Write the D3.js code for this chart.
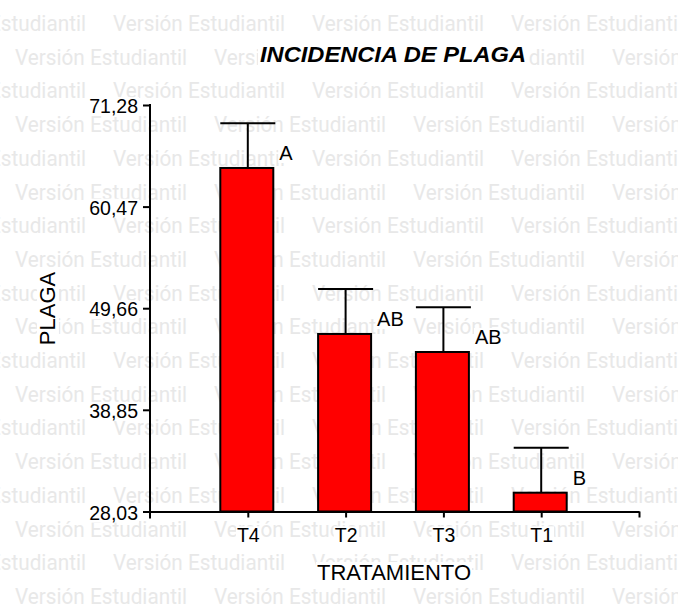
<!DOCTYPE html>
<html>
<head>
<meta charset="utf-8">
<script src="https://cdn.jsdelivr.net/npm/d3@7"></script>
<style>
  body { margin: 0; background: #fff; }
  svg { display: block; }
</style>
</head>
<body>
<div id="chart"></div>
<script>
// data
var categories = ['T4', 'T2', 'T3', 'T1'];
var means = [64.58, 46.92, 45.00, 30.03];
var errors = [4.77, 4.77, 4.77, 4.77];
var letters = ['A', 'AB', 'AB', 'B'];
var yTicks = [28.03, 38.85, 49.66, 60.47, 71.28];

var W = 678, H = 607;
var font = "'Liberation Sans', Arial, sans-serif";

var svg = d3.select('#chart').append('svg')
  .attr('width', W)
  .attr('height', H)
  .style('font-family', font);

// watermark rows
var wm = svg.append('g')
  .attr('fill', '#e8e8e8')
  .style('font-family', "Roboto, 'Liberation Sans', sans-serif")
  .style('font-size', '22px');
for (var k = 0; k < 18; k++) {
  var wy = 31 + 33.7 * k;
  var x0 = (k % 2 == 0) ? -86 : 15;
  for (var wx = x0; wx < W; wx += 199) {
    wm.append('text')
      .attr('x', wx)
      .attr('y', wy)
      .attr('textLength', 172)
      .attr('lengthAdjust', 'spacingAndGlyphs')
      .text('Versión Estudiantil');
  }
}

// white box behind a text so the watermark is hidden there
var boxBehind = function(sel, pad) {
  sel.each(function() {
    var b = this.getBBox();
    d3.select(this.parentNode).insert('rect', function() { return this; }.bind(this))
      .attr('x', b.x - pad)
      .attr('y', b.y + 2)
      .attr('width', b.width + 2 * pad)
      .attr('height', b.height - 3)
      .attr('fill', '#fff');
  });
};

var x = d3.scaleLinear()
  .domain([0, categories.length + 1])
  .range([150, 639]);
var y = d3.scaleLinear()
  .domain([yTicks[0], yTicks[yTicks.length - 1]])
  .range([511.5, 105]);

var barW = 53, capW = 55;
var g = svg.append('g');

// error bars
means.forEach(function(m, i) {
  var cx = x(i + 1);
  g.append('line')
    .attr('x1', cx).attr('x2', cx)
    .attr('y1', y(m)).attr('y2', y(m + errors[i]))
    .attr('stroke', '#000').attr('stroke-width', 2);
  g.append('line')
    .attr('x1', cx - capW / 2).attr('x2', cx + capW / 2)
    .attr('y1', y(m + errors[i])).attr('y2', y(m + errors[i]))
    .attr('stroke', '#000').attr('stroke-width', 2);
});

// bars
g.selectAll('rect.bar')
  .data(means)
  .enter().append('rect')
  .attr('class', 'bar')
  .attr('x', function(d, i) { return x(i + 1) - barW / 2 - 1; })
  .attr('y', function(d) { return y(d); })
  .attr('width', barW)
  .attr('height', function(d) { return y(yTicks[0]) - y(d); })
  .attr('fill', '#ff0000')
  .attr('stroke', '#000')
  .attr('stroke-width', 2);

// letters
var lab = g.selectAll('text.lett')
  .data(letters)
  .enter().append('text')
  .attr('class', 'lett')
  .attr('x', function(d, i) { return x(i + 1) + barW / 2 + 5; })
  .attr('y', function(d, i) { return y(means[i]) - 8; })
  .style('font-size', '20px')
  .text(function(d) { return d; });
boxBehind(lab, 1);

// y axis
var yAxis = d3.axisLeft(y)
  .tickValues(yTicks)
  .tickSize(7)
  .tickPadding(5)
  .tickFormat(function(d) { return d3.format('.2f')(d).replace('.', ','); });
var ya = svg.append('g')
  .attr('transform', 'translate(150,0)')
  .call(yAxis);
ya.select('.domain').remove();
ya.selectAll('line').attr('stroke-width', 2);
ya.selectAll('text')
  .attr('dy', '0.39em')
  .style('font-size', '19.5px')
  .style('font-family', font)
  .attr('fill', '#000');
boxBehind(ya.selectAll('text'), 1);
ya.append('line')
  .attr('x1', 0).attr('x2', 0)
  .attr('y1', y(yTicks[0]) + 7).attr('y2', y(yTicks[yTicks.length - 1]) - 1)
  .attr('stroke', '#000').attr('stroke-width', 2);

// x axis
var xAxis = d3.axisBottom(x)
  .tickValues(d3.range(1, categories.length + 2))
  .tickSize(6)
  .tickSizeOuter(0)
  .tickPadding(11)
  .tickFormat(function(d) { return categories[d - 1] || ''; });
var xa = svg.append('g')
  .attr('transform', 'translate(0,' + y(yTicks[0]) + ')')
  .call(xAxis);
xa.select('.domain').attr('stroke-width', 2);
xa.selectAll('line').attr('stroke-width', 2);
xa.selectAll('text')
  .style('font-size', '19.5px')
  .style('font-family', font)
  .attr('fill', '#000');
boxBehind(xa.selectAll('text').filter(function(d) { return categories[d - 1]; }), 1);

// titles
var t = svg.append('g');
var title = t.append('text')
  .attr('x', 393)
  .attr('y', 61.5)
  .attr('text-anchor', 'middle')
  .attr('textLength', 266)
  .attr('lengthAdjust', 'spacingAndGlyphs')
  .style('font-size', '22px')
  .style('font-weight', 'bold')
  .style('font-style', 'italic')
  .text('INCIDENCIA DE PLAGA');
boxBehind(title, 2);

var xt = t.append('text')
  .attr('x', 394)
  .attr('y', 580)
  .attr('text-anchor', 'middle')
  .style('font-size', '22px')
  .text('TRATAMIENTO');
boxBehind(xt, 1);

var yg = svg.append('g')
  .attr('transform', 'translate(47,308.5) rotate(-90)');
var yt = yg.append('text')
  .attr('text-anchor', 'middle')
  .attr('dy', '0.36em')
  .style('font-size', '22px')
  .text('PLAGA');
boxBehind(yt, 1);
</script>
</body>
</html>
